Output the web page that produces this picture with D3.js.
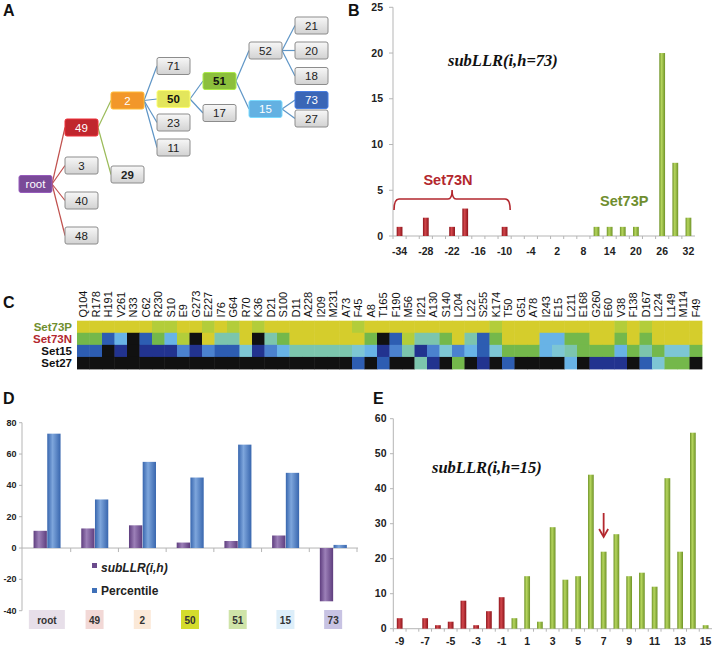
<!DOCTYPE html>
<html><head><meta charset="utf-8">
<script src="https://cdn.jsdelivr.net/npm/d3@7"></script>
<style>body{margin:0;background:#fff} svg{display:block}</style>
</head><body>
<svg id="c" width="716" height="648"></svg>
<script>
// ---------- DATA ----------
// Panel A: tree
const treeNames   = ["root","49","3","40","48","2","29","71","50","23","11","51","17","52","15","21","20","18","73","27"];
const treeParents = [null,"root","root","root","root","49","49","2","2","2","2","50","50","51","51","52","52","52","15","15"];
const treeDepth   = [0,1,1,1,1,2,2,3,3,3,3,4,4,5,5,6,6,6,6,6];
const treeLane    = [18.4,12.75,16.55,20.05,23.55,10.05,17.45,6.6,9.9,12.25,14.75,8.1,11.3,5.05,10.9,2.55,5.05,7.6,10.0,11.85];
const treeColor   = {root:"#7a4a98","49":"#c0262d","2":"#f2972a","50":"#e3e65c","51":"#8cbf3c","15":"#63b1e2","73":"#3a66b6"};
const treeTextColor = {root:"#fff","49":"#fff","2":"#fff","50":"#111","51":"#111","15":"#fff","73":"#fff"};
const treeBold    = ["50","51","29"];

// Panel B
const bCats   = [-34,-31,-28,-25,-22,-19,-16,-13,-10,-7,-4,-1,2,5,8,11,14,17,20,23,26,29,32];
const bValues = [1,0,2,0,1,3,0,0,1,0,0,0,0,0,0,1,1,1,1,0,20,8,2];
const bXLabels = [-34,-28,-22,-16,-10,-4,2,8,14,20,26,32];
const bYTicks  = [0,5,10,15,20,25];

// Panel C: heatmap (levels 0 black .. 9 yellow)
const cCols = ["Q104","R178","H191","V261","N33","C62","R230","S10","E9","G273","E227","I76","G64","R70","K36","D21","S100","D11","A228","I209","M231","A73","F45","A8","T165","F190","M56","I221","A130","S140","L204","L22","S255","K174","T50","G51","A78","I243","E15","L211","E168","G260","E60","V38","F138","D167","L224","L149","M114","F49"];
const cRows = ["Set73P","Set73N","Set15","Set27"];
const cSet73P = [9,9,9,9,9,9,8,8,9,9,8,9,8,9,8,9,9,9,9,9,9,9,8,9,9,9,9,9,9,9,9,9,9,8,9,9,9,9,9,9,9,9,9,8,9,8,9,9,9,9];
const cSet73N = [7,7,2,4,0,2,7,4,8,0,9,6,6,9,0,6,7,9,9,9,9,9,9,7,0,2,8,6,6,7,9,6,2,7,9,9,9,4,4,7,7,9,9,7,9,7,9,9,9,9];
const cSet15  = [2,2,0,1,0,1,1,1,3,1,3,2,2,5,1,3,4,6,6,6,6,6,5,4,1,3,6,1,3,5,3,4,2,5,7,7,7,4,5,6,7,7,7,4,7,6,7,5,5,7];
const cSet27  = [0,0,0,0,0,0,0,0,0,0,0,0,0,0,0,0,0,0,0,0,0,0,2,0,2,0,0,6,1,0,7,0,1,0,2,0,0,0,0,4,0,1,1,1,0,2,5,7,7,0];
const cPalette = ["#111111","#22338f","#2d5db2","#4b82cf","#68b3e6","#7dc6d4","#7cc5ad","#74b84b","#b3cd3a","#d5cd2c"];

// Panel D
const dCats = ["root","49","2","50","51","15","73"];
const dSub  = [11,12.5,14.5,3.5,4.5,8,-34];
const dPct  = [73,31,55,45,66,48,2];
const dYTicks = [-40,-20,0,20,40,60,80];
const dBoxColors = ["#e7dfe9","#f2d8d6","#fbe9d8","#d4dc2c","#cfe4a8","#ddeef9","#c8c3e3"];

// Panel E
const eCats   = [-9,-8,-7,-6,-5,-4,-3,-2,-1,0,1,2,3,4,5,6,7,8,9,10,11,12,13,14,15];
const eValues = [3,0,3,1,2,8,1,5,9,3,15,2,29,14,15,44,22,27,15,16,12,43,22,56,1];
const eXLabels = [-9,-7,-5,-3,-1,1,3,5,7,9,11,13,15];
const eYTicks  = [0,10,20,30,40,50,60];

// ---------- DRAW ----------
const svg = d3.select("#c");
const defs = svg.append("defs");
function cyl(id, dark, light){
  const g = defs.append("linearGradient").attr("id",id).attr("x1","0").attr("x2","1").attr("y1","0").attr("y2","0");
  g.append("stop").attr("offset","0%").attr("stop-color",dark);
  g.append("stop").attr("offset","40%").attr("stop-color",light);
  g.append("stop").attr("offset","100%").attr("stop-color",dark);
}
cyl("gRed","#8e141b","#d2474c");
cyl("gGreen","#6f9328","#b6d65e");
cyl("gPurple","#5e3d7e","#9c80b8");
cyl("gBlue","#3866ae","#7ea6dc");
const gg = defs.append("linearGradient").attr("id","gGray").attr("x1","0").attr("x2","0").attr("y1","0").attr("y2","1");
gg.append("stop").attr("offset","0%").attr("stop-color","#f7f7f7");
gg.append("stop").attr("offset","100%").attr("stop-color","#d2d2d2");

const narrow = "'Liberation Sans Narrow','Arial Narrow','Liberation Sans',Arial,sans-serif";
const sans = "'Liberation Sans',Arial,sans-serif";
const axisCol = "#b5b5b5";

// panel letters
[["A",3,16],["B",348,16],["C",3,308],["D",3,404],["E",373,404]].forEach(([t,x,y])=>{
  svg.append("text").attr("x",x).attr("y",y).text(t)
    .style("font-family",sans).style("font-weight","bold").style("font-size","16px").attr("fill","#111");
});

// ---- Panel A ----
(function(){
  const xs = d3.scaleLinear().domain([0,6]).range([19,295]);
  const ys = d3.scaleLinear().domain([0,25]).range([0,250]);
  const W = 33, H = 17;
  const nodes = treeNames.map((n,i)=>({name:n,parent:treeParents[i],x:xs(treeDepth[i]),y:ys(treeLane[i])}));
  const byName = Object.fromEntries(nodes.map(d=>[d.name,d]));
  const g = svg.append("g");
  nodes.filter(d=>d.parent).forEach(d=>{
    const p = byName[d.parent];
    const col = d.parent==="root" ? "#c0504d" : (d.parent==="49" ? "#9bbb59" : "#5e95c6");
    g.append("line").attr("x1",p.x+W).attr("y1",p.y).attr("x2",d.x).attr("y2",d.y)
      .attr("stroke",col).attr("stroke-width",1.2);
  });
  const ng = g.selectAll("g.n").data(nodes).join("g").attr("transform",d=>`translate(${d.x},${d.y-H/2})`);
  ng.append("rect").attr("width",W).attr("height",H).attr("rx",2)
    .attr("fill",d=>treeColor[d.name]||"url(#gGray)")
    .attr("stroke",d=>treeColor[d.name]?d3.color(treeColor[d.name]).brighter(0.6):"#8c8c8c")
    .attr("stroke-width",1);
  ng.append("text").attr("x",W/2).attr("y",H/2+4).attr("text-anchor","middle")
    .text(d=>d.name)
    .style("font-family",sans).style("font-size","11.5px")
    .style("font-weight",d=>treeBold.includes(d.name)?"bold":"normal")
    .attr("fill",d=>treeTextColor[d.name]||"#222");
})();

// ---- Panel B ----
(function(){
  const x = d3.scaleBand().domain(bCats).range([393,695]);
  const y = d3.scaleLinear().domain([0,25]).range([236,7.3]);
  const g = svg.append("g");
  g.append("line").attr("x1",393).attr("x2",393).attr("y1",y(25)).attr("y2",y(0)).attr("stroke",axisCol);
  g.append("line").attr("x1",393).attr("x2",695).attr("y1",y(0)).attr("y2",y(0)).attr("stroke",axisCol);
  bYTicks.forEach(t=>{
    g.append("line").attr("x1",389).attr("x2",393).attr("y1",y(t)).attr("y2",y(t)).attr("stroke",axisCol);
    g.append("text").attr("x",383).attr("y",y(t)+3.5).attr("text-anchor","end").text(t)
      .style("font-family",narrow).style("font-weight","bold").style("font-size","10.5px").attr("fill","#222");
  });
  bCats.forEach(c=>{
    g.append("line").attr("x1",x(c)).attr("x2",x(c)).attr("y1",y(0)).attr("y2",y(0)+3).attr("stroke",axisCol);
  });
  bXLabels.forEach(c=>{
    g.append("text").attr("x",x(c)+x.bandwidth()/2).attr("y",255).attr("text-anchor","middle").text(c)
      .style("font-family",narrow).style("font-weight","bold").style("font-size","10.5px").attr("fill","#222");
  });
  const bw = x.bandwidth()*0.44;
  g.selectAll("rect.b").data(bCats.map((c,i)=>({c,v:bValues[i]})).filter(d=>d.v>0)).join("rect")
    .attr("x",d=>x(d.c)+(x.bandwidth()-bw)/2).attr("width",bw)
    .attr("y",d=>y(d.v)).attr("height",d=>y(0)-y(d.v))
    .attr("fill",d=>d.c<0?"url(#gRed)":"url(#gGreen)");
  g.append("text").attr("x",448).attr("y",66).text("subLLR(i,h=73)")
    .style("font-family","'Liberation Serif','Times New Roman',serif").style("font-weight","bold")
    .style("font-style","italic").style("font-size","16.5px").attr("fill","#111");
  g.append("text").attr("x",448).attr("y",185).attr("text-anchor","middle").text("Set73N")
    .style("font-family",sans).style("font-weight","bold").style("font-size","14.5px").attr("fill","#b3272e");
  const x0 = x(-34)+1, x1 = x(-10)+x.bandwidth()-1, xm = (x0+x1)/2;
  g.append("path").attr("d",`M${x0},210 Q${x0},199 ${x0+5},199 L${xm-4},199 Q${xm},199 ${xm},190 Q${xm},199 ${xm+4},199 L${x1-5},199 Q${x1},199 ${x1},210`)
    .attr("fill","none").attr("stroke","#b3272e").attr("stroke-width",1.6);
  g.append("text").attr("x",600).attr("y",206).text("Set73P")
    .style("font-family",sans).style("font-weight","bold").style("font-size","14.5px").attr("fill","#6f8e2e");
})();

// ---- Panel C ----
(function(){
  const x = d3.scaleBand().domain(cCols).range([77,702]);
  const y = d3.scaleBand().domain(cRows).range([320.7,369]);
  const rowsData = [cSet73P,cSet73N,cSet15,cSet27];
  const col = d3.scaleOrdinal().domain(d3.range(cPalette.length)).range(cPalette);
  const g = svg.append("g");
  rowsData.forEach((arr,ri)=>{
    g.selectAll(null).data(arr).join("rect")
      .attr("x",(d,i)=>x(cCols[i])).attr("y",y(cRows[ri]))
      .attr("width",x.bandwidth()+0.4).attr("height",y.bandwidth()+0.4)
      .attr("fill",d=>col(d));
  });
  cCols.forEach(c=>{
    g.append("text").attr("transform",`translate(${x(c)+x.bandwidth()/2+4},317.5) rotate(-90)`)
      .text(c).style("font-family",sans).style("font-size","11px").attr("fill","#111");
  });
  const rc = ["#6f8e2e","#b3272e","#111","#111"];
  cRows.forEach((r,i)=>{
    g.append("text").attr("x",72).attr("y",y(r)+y.bandwidth()/2+4).attr("text-anchor","end").text(r)
      .style("font-family",sans).style("font-weight","bold").style("font-size","11.5px").attr("fill",rc[i]);
  });
})();

// ---- Panel D ----
(function(){
  const x = d3.scaleBand().domain(dCats).range([23,357]);
  const y = d3.scaleLinear().domain([-40,80]).range([610.7,422.7]);
  const g = svg.append("g");
  g.append("line").attr("x1",22).attr("x2",22).attr("y1",y(80)).attr("y2",y(-40)).attr("stroke",axisCol);
  dYTicks.forEach(t=>{
    g.append("line").attr("x1",19).attr("x2",22).attr("y1",y(t)).attr("y2",y(t)).attr("stroke",axisCol);
    g.append("text").attr("x",16.5).attr("y",y(t)+3).attr("text-anchor","end").text(t)
      .style("font-family",narrow).style("font-weight","bold").style("font-size","9px").attr("fill","#222");
  });
  g.append("line").attr("x1",22).attr("x2",358).attr("y1",y(0)).attr("y2",y(0)).attr("stroke",axisCol);
  dCats.forEach(c=>{
    g.append("line").attr("x1",x(c)+x.bandwidth()).attr("x2",x(c)+x.bandwidth()).attr("y1",y(0)).attr("y2",y(0)+4).attr("stroke",axisCol);
  });
  const bw = 13.3;
  dCats.forEach((c,i)=>{
    const cx = x(c)+x.bandwidth()/2;
    const s = dSub[i], p = dPct[i];
    g.append("rect").attr("x",cx-bw).attr("width",bw).attr("y",y(Math.max(0,s))).attr("height",Math.abs(y(s)-y(0)))
      .attr("fill","url(#gPurple)");
    g.append("rect").attr("x",cx+0.4).attr("width",bw).attr("y",y(Math.max(0,p))).attr("height",Math.abs(y(p)-y(0)))
      .attr("fill","url(#gBlue)");
    const label = c;
    const w = Math.max(17, label.length*9);
    g.append("rect").attr("x",cx-w/2).attr("y",610).attr("width",w).attr("height",19).attr("fill",dBoxColors[i]);
    g.append("text").attr("x",cx).attr("y",623.5).attr("text-anchor","middle").text(label)
      .style("font-family",narrow).style("font-weight","bold").style("font-size","10px").attr("fill","#333");
  });
  // legend
  g.append("rect").attr("x",92).attr("y",563).attr("width",5).attr("height",5).attr("fill","#6a4a8c");
  g.append("text").attr("x",101).attr("y",572).text("subLLR(i,h)")
    .style("font-family",sans).style("font-weight","bold").style("font-style","italic").style("font-size","12px").attr("fill","#222");
  g.append("rect").attr("x",92).attr("y",588).attr("width",5).attr("height",5).attr("fill","#3f70b8");
  g.append("text").attr("x",101).attr("y",595).text("Percentile")
    .style("font-family",sans).style("font-weight","bold").style("font-size","12px").attr("fill","#222");
})();

// ---- Panel E ----
(function(){
  const x = d3.scaleBand().domain(eCats).range([393.3,712]);
  const y = d3.scaleLinear().domain([0,60]).range([628.7,418.7]);
  const g = svg.append("g");
  g.append("line").attr("x1",393.3).attr("x2",393.3).attr("y1",y(60)).attr("y2",y(0)).attr("stroke",axisCol);
  g.append("line").attr("x1",393.3).attr("x2",712).attr("y1",y(0)).attr("y2",y(0)).attr("stroke",axisCol);
  eYTicks.forEach(t=>{
    g.append("line").attr("x1",390).attr("x2",393.3).attr("y1",y(t)).attr("y2",y(t)).attr("stroke",axisCol);
    g.append("text").attr("x",386.5).attr("y",y(t)+3.5).attr("text-anchor","end").text(t)
      .style("font-family",narrow).style("font-weight","bold").style("font-size","10.5px").attr("fill","#222");
  });
  eCats.forEach(c=>{
    g.append("line").attr("x1",x(c)).attr("x2",x(c)).attr("y1",y(0)).attr("y2",y(0)+3).attr("stroke",axisCol);
  });
  eXLabels.forEach(c=>{
    g.append("text").attr("x",x(c)+x.bandwidth()/2).attr("y",645).attr("text-anchor","middle").text(c)
      .style("font-family",narrow).style("font-weight","bold").style("font-size","10.5px").attr("fill","#222");
  });
  const bw = x.bandwidth()*0.45;
  g.selectAll("rect.e").data(eCats.map((c,i)=>({c,v:eValues[i]})).filter(d=>d.v>0)).join("rect")
    .attr("x",d=>x(d.c)+(x.bandwidth()-bw)/2).attr("width",bw)
    .attr("y",d=>y(d.v)).attr("height",d=>y(0)-y(d.v))
    .attr("fill",d=>d.c<0?"url(#gRed)":"url(#gGreen)");
  g.append("text").attr("x",432).attr("y",473).text("subLLR(i,h=15)")
    .style("font-family","'Liberation Serif','Times New Roman',serif").style("font-weight","bold")
    .style("font-style","italic").style("font-size","16.5px").attr("fill","#111");
  const ax = x(7)+x.bandwidth()/2;
  g.append("line").attr("x1",ax).attr("x2",ax).attr("y1",513).attr("y2",535).attr("stroke","#b3272e").attr("stroke-width",1.8);
  g.append("path").attr("d",`M${ax-4.5},529 L${ax},537 L${ax+4.5},529`).attr("fill","none").attr("stroke","#b3272e").attr("stroke-width",1.8);
})();
</script>
</body></html>
